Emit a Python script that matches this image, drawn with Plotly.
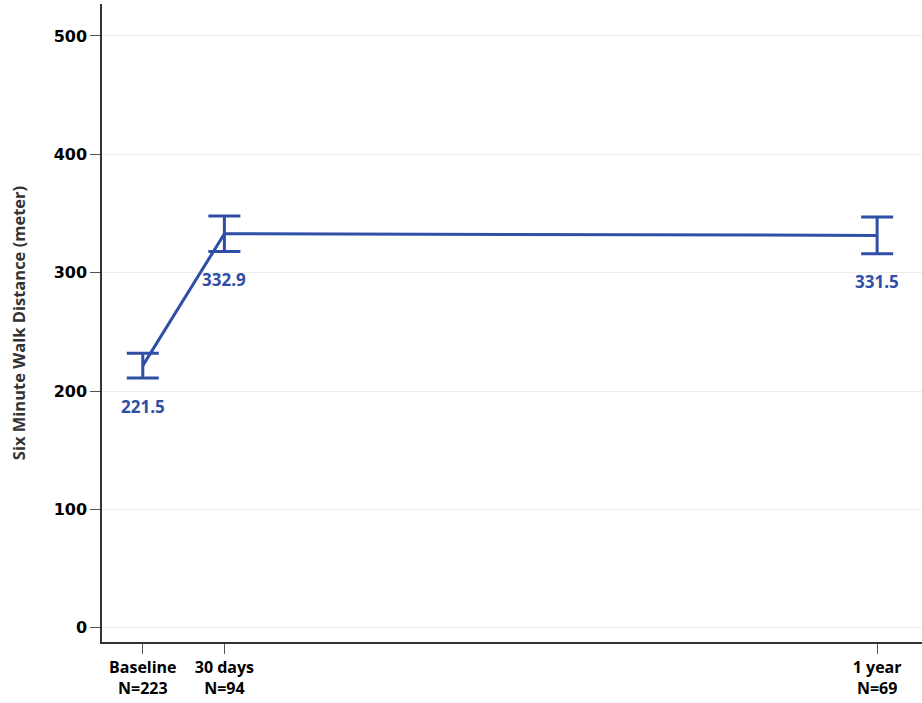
import plotly.graph_objects as go

categories = ["Baseline<br>N=223", "30 days<br>N=94", "1 year<br>N=69"]
x_pos = [0, 1, 9]
means = [221.5, 332.9, 331.5]
ci_half = [10.5, 15.0, 15.5]
labels = ["221.5", "332.9", "331.5"]
y_ticks = [0, 100, 200, 300, 400, 500]

blue = "#2F4EA6"

fig = go.Figure()
fig.add_trace(go.Scatter(
    x=x_pos, y=means, mode="lines",
    line=dict(color=blue, width=3),
    error_y=dict(type="data", array=ci_half, visible=True, color=blue,
                 thickness=3, width=16),
    showlegend=False, hoverinfo="skip"))

for xv, m, e, t in zip(x_pos, means, ci_half, labels):
    fig.add_annotation(x=xv, y=m - e, text=t, showarrow=False, yshift=-28,
                       font=dict(family="Open Sans", size=17, color=blue, weight="bold"))

fig.update_layout(
    width=922, height=703,
    margin=dict(l=102, r=0, t=4, b=61),
    plot_bgcolor="white", paper_bgcolor="white",
    font=dict(family="Open Sans", color="black"),
)
fig.update_xaxes(
    range=[-0.5, 9.55], tickvals=x_pos, ticktext=categories,
    showgrid=False, zeroline=False, showline=True, linecolor="#333333", linewidth=1.5,
    ticks="outside", ticklen=10, tickcolor="#555555",
    tickfont=dict(family="Open Sans", size=16, color="black", weight="bold"))
fig.update_yaxes(
    range=[-12, 527], tickvals=y_ticks,
    showgrid=True, gridcolor="#ececec", gridwidth=1, zeroline=False,
    showline=True, linecolor="#333333", linewidth=1.5,
    ticks="outside", ticklen=10, tickcolor="#555555",
    tickfont=dict(family="DejaVu Sans", size=16, color="black", weight="bold"),
    title=dict(text="Six Minute Walk Distance (meter)", standoff=24,
               font=dict(family="Open Sans", size=16.5, color="#333333", weight="bold")))

fig.write_html("out.html")
